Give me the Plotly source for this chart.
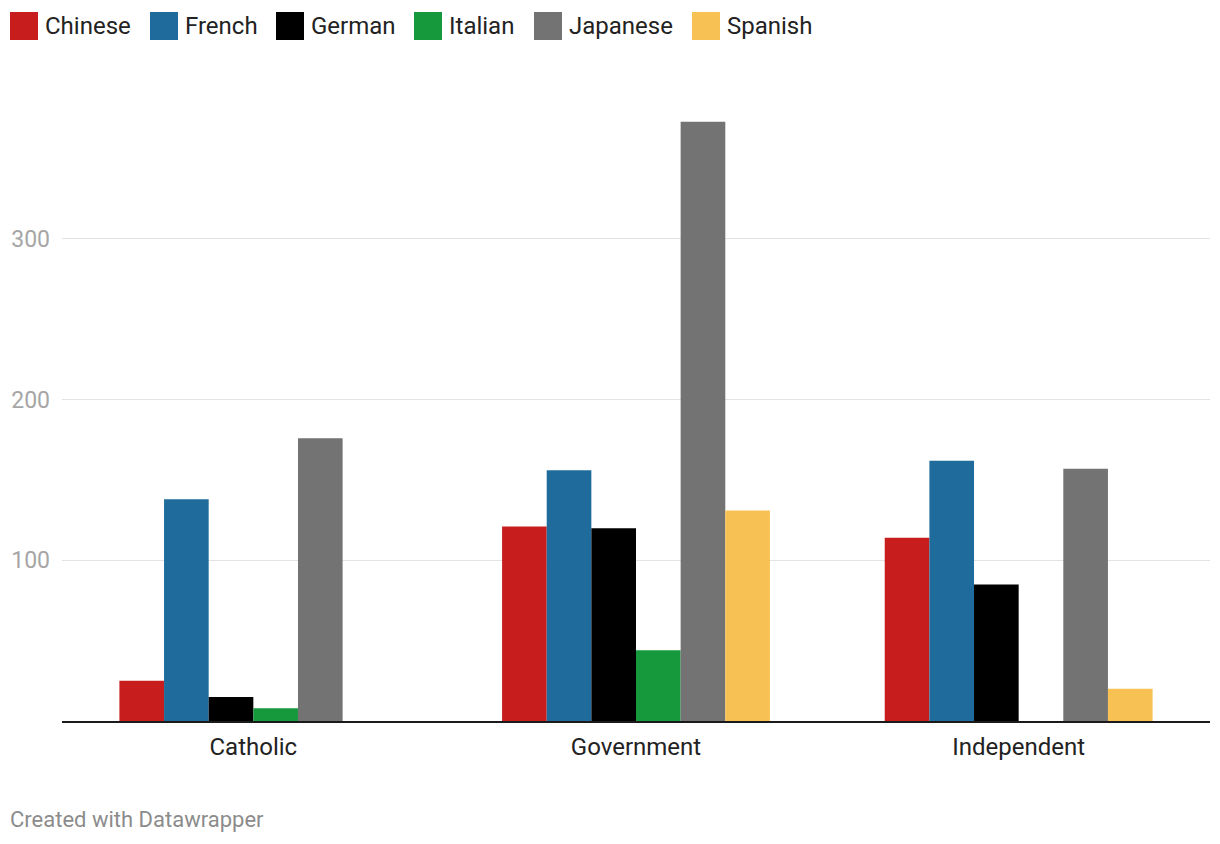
import plotly.graph_objects as go

categories = ["Catholic", "Government", "Independent"]
series_names = ["Chinese", "French", "German", "Italian", "Japanese", "Spanish"]
chinese = [25, 121, 114]
french = [138, 156, 162]
german = [15, 120, 85]
italian = [8, 44, 0]
japanese = [176, 373, 157]
spanish = [0, 131, 20]
y_ticks = [100, 200, 300]

values = [chinese, french, german, italian, japanese, spanish]
colors = ["#c71e1d", "#1f6c9c", "#000000", "#15993c", "#737373", "#f7c153"]

OFF = 8  # page body margin
W, H = 1220 - OFF, 844 - OFF
ML, MR, MT, MB = 62 - OFF, 10, 102 - OFF, 123
PW, PH = W - ML - MR, H - MT - MB

def px_x(px):
    return (px - OFF - ML) / PW

def px_y(py):
    return (H - MB - (py - OFF)) / PH

fig = go.Figure()
for name, vals, col in zip(series_names, values, colors):
    fig.add_trace(go.Bar(x=categories, y=vals, name=name, marker=dict(color=col, line=dict(width=0)),
                         showlegend=False))

# custom legend (large squares like the reference)
legend_x = [10, 150, 276, 414, 534, 692]
shapes = []
annotations = []
for lx, name, col in zip(legend_x, series_names, colors):
    shapes.append(dict(type="rect", xref="paper", yref="paper",
                       x0=px_x(lx), x1=px_x(lx + 28), y0=px_y(40), y1=px_y(12),
                       fillcolor=col, line=dict(width=0)))
    annotations.append(dict(text=name, xref="paper", yref="paper", x=px_x(lx + 33), y=px_y(26),
                            xanchor="left", yanchor="middle", showarrow=False,
                            font=dict(family="Roboto", size=24, color="#222222")))

annotations.append(dict(text="Created with Datawrapper", xref="paper", yref="paper",
                        x=px_x(8), y=px_y(819), xanchor="left", yanchor="middle", showarrow=False,
                        font=dict(family="Roboto", size=22, color="#8c8c8c")))

fig.update_layout(
    width=W, height=H,
    margin=dict(l=ML, r=MR, t=MT, b=MB, autoexpand=False),
    paper_bgcolor="white", plot_bgcolor="white",
    barmode="group", bargap=0.3, bargroupgap=0,
    font=dict(family="Roboto"),
    shapes=shapes, annotations=annotations,
    xaxis=dict(showline=True, linecolor="#1a1a1a", linewidth=2, showgrid=False, automargin=False,
               ticks="outside", ticklen=3, tickcolor="rgba(0,0,0,0)",
               tickfont=dict(family="Roboto", size=24, color="#222222")),
    yaxis=dict(range=[0, PH / 1.6067], tickvals=y_ticks, showgrid=True, gridcolor="#e3e3e3",
               gridwidth=1, zeroline=False, ticks="", ticklabelstandoff=11, automargin=False,
               tickfont=dict(family="Roboto", size=23, color="#a6a6a6")),
)

fig.write_html("out.html")
